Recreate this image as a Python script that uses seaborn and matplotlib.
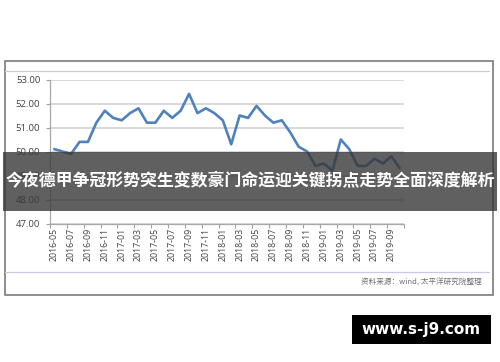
import matplotlib
matplotlib.use("Agg")
import matplotlib.pyplot as plt
from matplotlib.patches import Rectangle
from matplotlib.lines import Line2D
import seaborn as sns
import pandas as pd
import numpy as np

# ---- data ----
months = [
    "2016-05", "2016-06", "2016-07", "2016-08", "2016-09", "2016-10", "2016-11", "2016-12",
    "2017-01", "2017-02", "2017-03", "2017-04", "2017-05", "2017-06", "2017-07", "2017-08",
    "2017-09", "2017-10", "2017-11", "2017-12",
    "2018-01", "2018-02", "2018-03", "2018-04", "2018-05", "2018-06", "2018-07", "2018-08",
    "2018-09", "2018-10", "2018-11", "2018-12",
    "2019-01", "2019-02", "2019-03", "2019-04", "2019-05", "2019-06", "2019-07", "2019-08",
    "2019-09", "2019-10",
]
pmi = [
    50.1, 50.0, 49.9, 50.4, 50.4, 51.2, 51.7, 51.4,
    51.3, 51.6, 51.8, 51.2, 51.2, 51.7, 51.4, 51.7,
    52.4, 51.6, 51.8, 51.6,
    51.3, 50.3, 51.5, 51.4, 51.9, 51.5, 51.2, 51.3,
    50.8, 50.2, 50.0, 49.4,
    49.5, 49.2, 50.5, 50.1, 49.4, 49.4, 49.7, 49.5,
    49.8, 49.3,
]
y_ticks = [47, 48, 49, 50, 51, 52, 53]
banner_text = "今夜德甲争冠形势突生变数豪门命运迎关键拐点走势全面深度解析"
source_text = "资料来源：wind, 太平洋研究院整理"
watermark = "www.s-j9.com"

sns.set_theme(style="white")
plt.rcParams['font.family'] = ['Open Sans', 'Noto Sans CJK SC', 'DejaVu Sans']

df = pd.DataFrame({"idx": np.arange(len(months)), "month": months, "pmi": pmi})

W, H = 500, 362
fig = plt.figure(figsize=(W / 100, H / 100), dpi=100)
fig.patch.set_facecolor("white")

# axes in pixel geometry
L, R, T, B = 50, 404, 79.5, 223.5
ax = fig.add_axes([L / W, 1 - B / H, (R - L) / W, (B - T) / H])

sns.lineplot(data=df, x="idx", y="pmi", ax=ax, color="#4f81bd", linewidth=1.9)

ax.set_xlim(-0.5, len(months) - 0.5)
ax.set_ylim(47, 53)
ax.set_yticks(y_ticks)
ax.set_yticklabels([f"{v:.2f}" for v in y_ticks], fontsize=6.8, color="#404040")
ax.yaxis.grid(True, color="#cfcfcf", linewidth=1.1)
ax.set_axisbelow(True)

# category ticks between categories, labels at every other category
ax.set_xticks(np.arange(-0.5, len(months), 2))
ax.set_xticklabels([])
ax.set_xticks(np.arange(0, len(months), 2), minor=True)
ax.set_xticklabels(months[::2], minor=True, rotation=90, fontsize=6.3, color="#404040")
ax.tick_params(axis="x", which="minor", length=0, pad=3)
ax.tick_params(axis="x", which="major", length=3, color="#a0a0a0", width=0.8, direction="out", bottom=True)
ax.tick_params(axis="y", length=3, color="#a0a0a0", width=0.8, direction="out", left=True, pad=4)
ax.set_xlabel("")
ax.set_ylabel("")
for s in ["top", "right"]:
    ax.spines[s].set_visible(False)
for s in ["left", "bottom"]:
    ax.spines[s].set_color("#a8a8a8")
    ax.spines[s].set_linewidth(0.9)

# outer frame
fig.add_artist(Rectangle((5 / W, 1 - 295 / H), (493 - 5) / W, (295 - 61) / H,
                         transform=fig.transFigure, fill=False, edgecolor="#7a7a7a", linewidth=1.2))
fig.add_artist(Line2D([5 / W, 489 / W], [1 - 70.5 / H, 1 - 70.5 / H],
                      transform=fig.transFigure, color="#c9c9e6", linewidth=0.9))
fig.add_artist(Line2D([5 / W, 489 / W], [1 - 272 / H, 1 - 272 / H],
                      transform=fig.transFigure, color="#c9c9e6", linewidth=0.9))
fig.text(482 / W, 1 - 283 / H, source_text, ha="right", va="center", fontsize=5.5,
         color="#707070", style="italic", family=['Noto Sans CJK SC', 'DejaVu Sans'])

# banner overlay
fig.add_artist(Rectangle((3 / W, 1 - 211 / H), (497 - 3) / W, (211 - 152) / H,
                         transform=fig.transFigure, facecolor=(0.22, 0.22, 0.22), alpha=0.8,
                         edgecolor="none", zorder=10))
fig.text(250 / W, 1 - 181.5 / H, banner_text, ha="center", va="center", fontsize=12.2,
         color="white", fontweight="bold", family=['Noto Sans CJK SC', 'DejaVu Sans'], zorder=11)

# watermark box
fig.add_artist(Rectangle((351.5 / W, 1 - 343.5 / H), (490.5 - 351.5) / W, (343.5 - 315) / H,
                         transform=fig.transFigure, facecolor="black", edgecolor="none", zorder=10))
fig.text(421 / W, 1 - 329.5 / H, watermark, ha="center", va="center", fontsize=11,
         color="white", fontweight="bold", family=['DejaVu Sans'], zorder=11)

fig.savefig("out.png", dpi=100, facecolor="white")
